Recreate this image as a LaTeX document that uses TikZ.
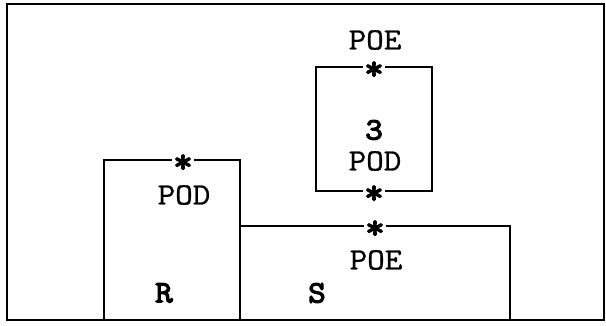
\documentclass[tikz,border=0pt]{standalone}
\usepackage{fontspec}
\setmonofont{Latin Modern Mono}[FakeStretch=1.1, FakeBold=1]
\newfontfamily\heavytt{Latin Modern Mono}[FakeStretch=1.1, FakeBold=4]
\usepackage{tikz}
\usetikzlibrary{positioning}

\begin{document}
\begin{tikzpicture}[x=1pt, y=1pt, line width=1.3pt,
        lbl/.style={font=\ttfamily\fontsize{31}{31}\selectfont, inner sep=0pt},
        bold lbl/.style={lbl, font=\heavytt\fontsize{31}{31}\selectfont},
        joint/.style={fill=white, inner sep=1.5pt, font=\heavytt\fontsize{34}{34}\selectfont}]
        \useasboundingbox (0,0) rectangle (606,325);
        \draw (7,5) rectangle (604,321);
        % blocks
        \draw (104,5) |- (240,165) -- (240,5);
        \draw (240,99) -| (510,5);
        \draw (316,134) rectangle (432,258);
        % joints on the upper edges
        \foreach \n/\p in {r/{(183,165)}, s/{(375,99)}, top/{(374,258)}, bot/{(374,134)}}
            {\node[joint] (j\n) at \p {\raisebox{-8pt}[9pt][0pt]{*}};}
        % labels
        \node[lbl] (poetop) at (375,285) {POE};
        \node[bold lbl] (three) at (374,195) {3};
        \node[lbl] (podthree) at (375,164) {POD};
        \node[lbl] (podr) at (184,130) {POD};
        \node[bold lbl] (r) at (164,32) {R};
        \node[lbl] (poes) at (376,65) {POE};
        \node[bold lbl] (s) at (317,32) {S};
    \end{tikzpicture}
\end{document}
